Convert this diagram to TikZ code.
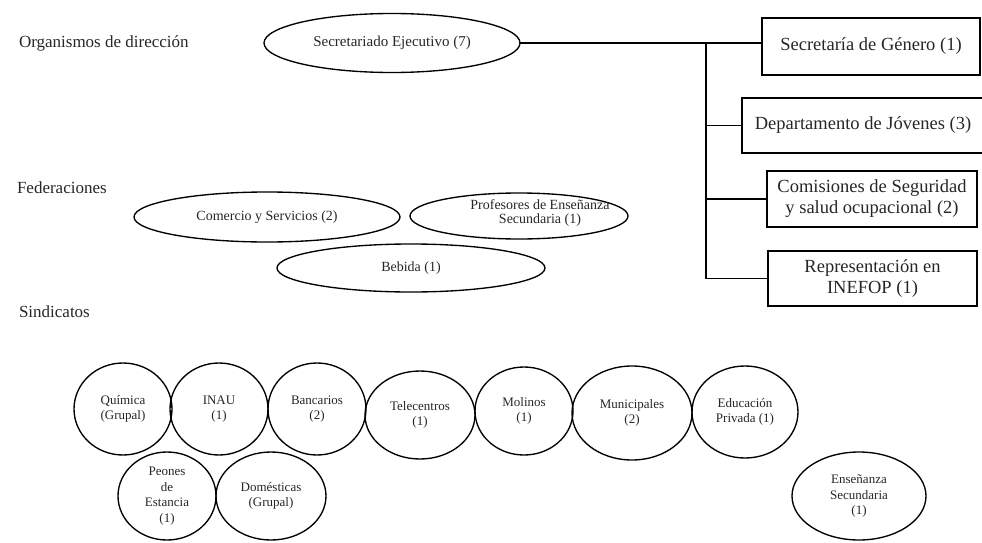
\documentclass[tikz,border=0pt]{standalone}
\usepackage{fontspec}
\setmainfont{Liberation Serif}
\usetikzlibrary{shapes.geometric}
\begin{document}
\begin{tikzpicture}[x=1pt,y=-1pt,
  every node/.style={inner sep=0pt, outer sep=0pt, text=black!85},
  lbl/.style={anchor=west, font=\fontsize{17}{19}\selectfont},
  ell/.style={draw, ellipse, line width=1.35pt},
  box/.style={draw, rectangle, line width=1.35pt, align=center, font=\fontsize{18.5}{21}\selectfont},
  fed/.style={ell, font=\fontsize{14}{15}\selectfont, align=center},
  sin/.style={ell, font=\fontsize{13}{15.5}\selectfont, align=center},
  conn/.style={line width=1.35pt}]
\useasboundingbox (0,0) rectangle (982,543);
% labels
\node[lbl] (lorg) at (19,43) {Organismos de dirección};
\node[lbl] (lfed) at (17,188) {Federaciones};
\node[lbl] (lsin) at (19,312) {Sindicatos};
% direction
\node[ell, minimum width=256pt, minimum height=59pt, font=\fontsize{15}{17}\selectfont] (sec) at (392,43) {Secretariado Ejecutivo (7)};
\node[box, minimum width=218pt, minimum height=57pt] (gen) at (871,46.5) {Secretaría de Género (1)};
\node[box, minimum width=242pt, minimum height=55pt] (dep) at (863,125.5) {Departamento de Jóvenes (3)};
\node[box, minimum width=210pt, minimum height=56pt] (com) at (872,199) {Comisiones de Seguridad\\y salud ocupacional (2)};
\node[box, minimum width=209pt, minimum height=55pt] (rep) at (872.5,278.5) {Representación en\\INEFOP (1)};
\coordinate (j) at (706,43);
\draw[conn] (sec.east) -- (sec.east -| gen.west);
\draw[conn] (j) |- (rep.west);
\draw[conn] (j |- dep.west) -- (dep.west);
\draw[conn] (j |- com.west) -- (com.west);
% federations
\node[fed, minimum width=266pt, minimum height=50pt] (cys) at (267,217) {Comercio y Servicios (2)};
\node[fed, minimum width=218pt, minimum height=46pt] (pes) at (519,216) {};
\node[font=\fontsize{14}{14.5}\selectfont, align=center] (pest) at (540,213) {Profesores de Enseñanza\\Secundaria (1)};
\node[fed, minimum width=268pt, minimum height=48pt] (beb) at (411,268) {Bebida (1)};
% sindicatos
\node[sin, minimum width=98pt, minimum height=92pt] (qui) at (123,409) {Química\\(Grupal)};
\node[sin, minimum width=98pt, minimum height=92pt] (inau) at (219,409) {INAU\\(1)};
\node[sin, minimum width=98pt, minimum height=92pt] (ban) at (317,409) {Bancarios\\(2)};
\node[sin, minimum width=110pt, minimum height=88pt] (tel) at (420,415) {Telecentros\\(1)};
\node[sin, minimum width=98pt, minimum height=88pt] (mol) at (524,411) {Molinos\\(1)};
\node[sin, minimum width=120pt, minimum height=94pt] (mun) at (632,413) {Municipales\\(2)};
\node[sin, minimum width=106pt, minimum height=92pt] (edu) at (745,412) {Educación\\Privada (1)};
\node[sin, minimum width=98pt, minimum height=88pt] (peo) at (167,496) {Peones\\de\\Estancia\\(1)};
\node[sin, minimum width=110pt, minimum height=88pt] (dom) at (271,496) {Domésticas\\(Grupal)};
\node[sin, minimum width=134pt, minimum height=88pt] (ens) at (859,496) {Enseñanza\\Secundaria\\(1)};
\end{tikzpicture}
\end{document}
